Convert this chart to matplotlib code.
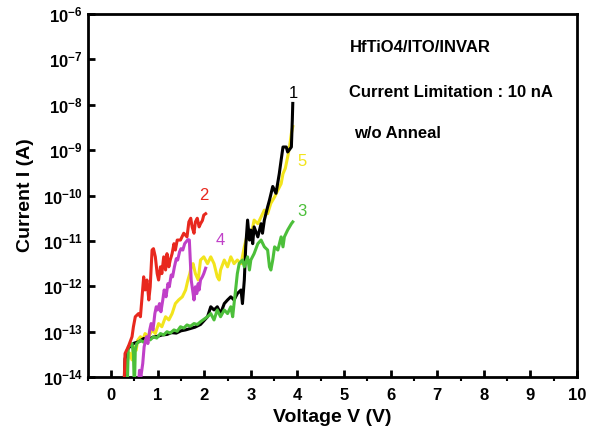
import matplotlib.pyplot as plt
import numpy as np
from matplotlib.ticker import FixedLocator, MultipleLocator

plt.rcParams['font.family'] = ['Liberation Sans', 'DejaVu Sans']
plt.rcParams['font.weight'] = 'bold'
plt.rcParams['mathtext.fontset'] = 'custom'
plt.rcParams['mathtext.rm'] = 'Liberation Sans:bold'
plt.rcParams['mathtext.bf'] = 'Liberation Sans:bold'
plt.rcParams['mathtext.default'] = 'bf'

# sweep 1 (black)
v1 = [0.27, 0.30, 0.35, 0.42, 0.50, 0.60, 0.70, 0.80, 0.90, 1.00, 1.10, 1.20, 1.30, 1.40,
      1.50, 1.60, 1.70, 1.80, 1.92, 2.07, 2.14, 2.21, 2.28, 2.35, 2.43, 2.50, 2.57, 2.64,
      2.71, 2.79, 2.82, 2.86, 2.89, 2.93, 2.97, 3.00, 3.04, 3.07, 3.15, 3.22, 3.25, 3.29,
      3.36, 3.40, 3.47, 3.54, 3.61, 3.65, 3.69, 3.76, 3.79, 3.87, 3.89, 3.90]
log_i1 = [-14.5, -13.6, -13.4, -13.3, -13.25, -13.22, -13.15, -13.17, -13.12, -13.1, -13.07,
          -13.06, -13.02, -13.03, -12.98, -12.96, -12.93, -12.9, -12.84, -12.67, -12.45,
          -12.52, -12.45, -12.6, -12.38, -12.3, -12.23, -12.3, -12.16, -12.08, -12.38,
          -11.86, -11.13, -10.54, -10.98, -10.76, -11.06, -10.69, -10.91, -10.62, -10.83,
          -10.54, -10.25, -10.1, -9.8, -9.95, -9.52, -9.22, -8.93, -8.93, -9.04, -8.93,
          -8.34, -7.97]

# sweep 2 (red)
v2 = [0.27, 0.30, 0.37, 0.45, 0.48, 0.52, 0.59, 0.63, 0.66, 0.70, 0.73, 0.77, 0.81, 0.84,
      0.88, 0.91, 0.95, 0.99, 1.02, 1.06, 1.09, 1.13, 1.17, 1.20, 1.24, 1.27, 1.31, 1.35,
      1.38, 1.42, 1.49, 1.56, 1.63, 1.67, 1.71, 1.74, 1.78, 1.81, 1.85, 1.89, 1.92, 1.96,
      1.99, 2.03]
log_i2 = [-14.5, -13.48, -13.33, -13.11, -12.89, -12.67, -12.6, -12.67, -12.3, -11.79,
          -12.08, -11.86, -12.3, -12.01, -11.2, -11.17, -11.35, -11.72, -11.86, -11.57,
          -11.72, -11.35, -11.64, -11.28, -11.57, -11.42, -11.28, -11.06, -11.2, -10.98,
          -10.98, -10.83, -10.91, -10.58, -10.5, -10.69, -10.83, -10.58, -10.5, -10.69,
          -10.62, -10.55, -10.43, -10.4]

# sweep 3 (green)
v3 = [0.34, 0.37, 0.45, 0.48, 0.50, 0.52, 0.55, 0.63, 0.70, 0.77, 0.84, 0.91, 0.98, 1.06,
      1.13, 1.20, 1.27, 1.35, 1.42, 1.49, 1.56, 1.63, 1.70, 1.78, 1.85, 1.92, 2.00, 2.07,
      2.14, 2.21, 2.28, 2.35, 2.43, 2.50, 2.57, 2.61, 2.64, 2.68, 2.71, 2.75, 2.82, 2.86,
      2.93, 2.97, 3.00, 3.07, 3.15, 3.22, 3.29, 3.36, 3.40, 3.43, 3.47, 3.51, 3.58, 3.65,
      3.69, 3.72, 3.79, 3.87, 3.90]
log_i3 = [-14.5, -13.33, -13.26, -13.48, -14.3, -13.4, -13.26, -13.19, -13.23, -13.15,
          -13.18, -13.11, -13.14, -13.04, -13.07, -13.0, -13.03, -12.96, -12.99, -12.89,
          -12.92, -12.85, -12.88, -12.82, -12.84, -12.78, -12.72, -12.67, -12.6, -12.74,
          -12.52, -12.67, -12.52, -12.6, -12.45, -12.67, -12.38, -12.01, -11.72, -11.5,
          -11.42, -11.57, -11.35, -11.64, -11.42, -11.28, -11.06, -10.98, -11.13, -11.2,
          -11.57, -11.64, -11.42, -11.13, -11.2, -10.91, -11.13, -10.91, -10.76, -10.62,
          -10.58]

# sweep 4 (magenta)
v4 = [0.57, 0.61, 0.64, 0.68, 0.71, 0.76, 0.79, 0.83, 0.86, 0.90, 0.94, 0.97, 1.00, 1.04,
      1.07, 1.11, 1.14, 1.18, 1.22, 1.25, 1.29, 1.32, 1.36, 1.40, 1.43, 1.47, 1.50, 1.54,
      1.58, 1.61, 1.65, 1.68, 1.70, 1.72, 1.75, 1.78, 1.81, 1.84, 1.87, 1.89, 1.92, 1.96,
      1.99, 2.03]
log_i4 = [-14.5, -13.85, -13.99, -13.7, -13.33, -13.11, -13.26, -12.96, -12.82, -12.96,
          -12.6, -12.45, -12.52, -12.38, -12.56, -12.3, -12.08, -12.23, -11.94, -12.01,
          -11.75, -11.79, -11.57, -11.39, -11.42, -11.24, -11.17, -11.2, -11.06, -11.02,
          -10.97, -10.98, -11.42, -11.86, -12.08, -12.3, -12.01, -12.16, -11.94, -12.08,
          -11.86, -11.79, -11.72, -11.6]

# sweep 5 (yellow)
v5 = [0.32, 0.34, 0.40, 0.45, 0.48, 0.54, 0.57, 0.63, 0.68, 0.73, 0.81, 0.88, 0.95, 1.02,
      1.09, 1.17, 1.24, 1.31, 1.38, 1.45, 1.53, 1.60, 1.65, 1.69, 1.72, 1.76, 1.81, 1.87,
      1.92, 1.99, 2.07, 2.14, 2.21, 2.28, 2.32, 2.35, 2.43, 2.50, 2.57, 2.64, 2.71, 2.79,
      2.86, 2.93, 3.00, 3.07, 3.15, 3.22, 3.29, 3.36, 3.43, 3.51, 3.58, 3.65, 3.69, 3.74,
      3.79, 3.83, 3.87, 3.90]
log_i5 = [-14.5, -13.69, -13.47, -13.62, -13.33, -13.41, -13.19, -13.11, -13.19, -13.04,
          -13.11, -12.96, -13.04, -12.82, -12.89, -12.67, -12.74, -12.6, -12.38, -12.3,
          -12.23, -12.08, -11.86, -11.72, -11.57, -11.5, -11.72, -11.86, -11.42, -11.35,
          -11.5, -11.35, -11.5, -11.79, -11.86, -11.64, -11.42, -11.57, -11.35, -11.5,
          -11.42, -11.5, -11.13, -10.83, -10.91, -10.54, -10.62, -10.47, -10.32, -10.4,
          -10.17, -10.03, -9.88, -9.74, -9.52, -9.4, -9.15, -8.93, -8.63, -8.48]

sweeps = [
    ('1', v1, log_i1, 'black', 2),
    ('5', v5, log_i5, '#f2e41c', 1),
    ('3', v3, log_i3, '#4cbf3a', 3),
    ('2', v2, log_i2, '#e8281e', 4),
    ('4', v4, log_i4, '#c040c8', 5),
]
label_pos = {'1': (3.92, -7.75), '5': (4.1, -9.25), '3': (4.1, -10.35),
             '2': (1.98, -10.0), '4': (2.35, -11.0)}

fig = plt.figure(figsize=(5.93, 4.38), dpi=100)
ax = fig.add_axes([0.148, 0.139, 0.825, 0.829])

for name, v, logi, color, z in sweeps:
    ax.plot(v, 10.0 ** np.array(logi), color=color, lw=2.2, zorder=z)
    lx, ly = label_pos[name]
    ax.text(lx, 10.0 ** ly, name, color=color, fontsize=12, fontweight='normal',
            ha='center', va='center')

ax.set_yscale('log')
ax.set_xlim(-0.5, 10)
ax.set_ylim(1e-14, 1e-6)
ax.xaxis.set_major_locator(MultipleLocator(1))
ax.xaxis.set_minor_locator(MultipleLocator(0.5))
ax.yaxis.set_major_locator(FixedLocator([10.0 ** k for k in range(-14, -5)]))
ax.yaxis.set_minor_locator(FixedLocator([]))
ax.set_yticklabels([r'$10^{%d}$' % k for k in range(-14, -5)])
ax.tick_params(direction='in', width=2, labelsize=12)
ax.tick_params(which='major', length=5)
ax.tick_params(which='minor', length=3, width=1.5)
ax.tick_params(axis='x', pad=8)
for s in ax.spines.values():
    s.set_linewidth(2)

ax.set_xlabel('Voltage V (V)', fontsize=14, fontweight='bold')
ax.set_ylabel('Current I (A)', fontsize=14, fontweight='bold', labelpad=6)

ax.text(0.535, 0.908, 'HfTiO4/ITO/INVAR', transform=ax.transAxes, fontsize=12,
        fontweight='bold', va='center')
ax.text(0.535, 0.784, 'Current Limitation : 10 nA', transform=ax.transAxes, fontsize=12,
        fontweight='bold', va='center')
ax.text(0.545, 0.671, 'w/o Anneal', transform=ax.transAxes, fontsize=12,
        fontweight='bold', va='center')

fig.savefig('out.png', dpi=100)
